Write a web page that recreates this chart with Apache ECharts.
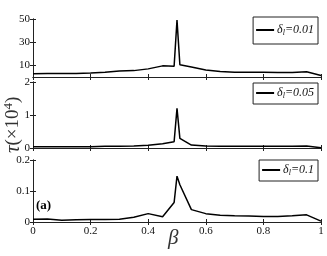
<!DOCTYPE html>
<html><head><meta charset="utf-8">
<script src="https://cdn.jsdelivr.net/npm/echarts@6/dist/echarts.min.js"></script>
<style>html,body{margin:0;padding:0;background:#fff}#c{width:327px;height:256px}</style>
</head><body><div id="c"></div>
<script>
const beta = [0,0.05,0.1,0.15,0.2,0.25,0.3,0.35,0.4,0.45,0.49,0.5,0.51,0.55,0.6,0.65,0.7,0.75,0.8,0.85,0.9,0.95,1];
const tau001 = [2.8,3.0,3.0,3.1,3.4,4.0,5.2,5.5,7.0,9.6,9.2,49,10.6,8.7,6.0,4.8,4.2,4.1,4.0,3.9,3.8,4.5,1.3];
const tau005 = [0.04,0.04,0.04,0.04,0.04,0.05,0.05,0.06,0.08,0.13,0.19,1.2,0.29,0.09,0.06,0.05,0.05,0.05,0.05,0.05,0.05,0.06,0.01];
const tau01  = [0.009,0.010,0.006,0.007,0.008,0.008,0.009,0.015,0.027,0.017,0.063,0.148,0.120,0.040,0.027,0.022,0.020,0.019,0.018,0.018,0.020,0.023,0.003];
const legendNames = ['0.01','0.05','0.1'];
const xTicks = [0,0.2,0.4,0.6,0.8,1];
const yTicks1 = [10,30,50], yTicks2 = [0,1,2], yTicks3 = [0,0.1,0.2];

const font = 'Liberation Serif';
const grids = [
  {left:33,right:6,top:19,height:58},
  {left:33,right:6,top:82,height:66},
  {left:33,right:6,top:160,height:62}
];
const ymax=[50,2,0.2], yt=[yTicks1,yTicks2,yTicks3];
const series=[tau001,tau005,tau01];
const xAxis=[], yAxis=[], ser=[], legend=[];
const axisLine={show:true,lineStyle:{color:'#222',width:1}};
for(let i=0;i<3;i++){
  xAxis.push({type:'value',gridIndex:i,min:0,max:1,position:'bottom',
    axisLine, splitLine:{show:false},
    axisTick:{show:true,inside:true,length:3,customValues:xTicks,lineStyle:{color:'#222'}},
    axisLabel:{show:i===2,customValues:xTicks,fontFamily:font,fontSize:11,color:'#111',margin:4,
      formatter:v=>String(v)}});
  xAxis.push({type:'value',gridIndex:i,min:0,max:1,position:'top',
    axisLine, splitLine:{show:false},
    axisTick:{show:true,inside:true,length:3,customValues:xTicks,lineStyle:{color:'#222'}},
    axisLabel:{show:false}});
  yAxis.push({type:'value',gridIndex:i,min:0,max:ymax[i],position:'left',
    axisLine, splitLine:{show:false},
    axisTick:{show:true,inside:true,length:3,customValues:yt[i],lineStyle:{color:'#222'}},
    axisLabel:{customValues:yt[i],fontFamily:font,fontSize:11,color:'#111',margin:3,formatter:v=>String(v)}});
  yAxis.push({type:'value',gridIndex:i,min:0,max:ymax[i],position:'right',
    axisLine, splitLine:{show:false},
    axisTick:{show:true,inside:true,length:3,customValues:yt[i],lineStyle:{color:'#222'}},
    axisLabel:{show:false}});
  ser.push({type:'line',name:'d'+i,xAxisIndex:2*i,yAxisIndex:2*i,
    data:beta.map((b,k)=>[b,series[i][k]]),showSymbol:false,symbol:'none',
    lineStyle:{color:'#000',width:1.5},itemStyle:{color:'#000'},animation:false});
}
const legPos=[{top:17,right:9,padding:[7,4,7,3]},{top:83,right:9,padding:[4,4,4,3]},{top:160,right:9,padding:[4,4,4,3]}];
for(let i=0;i<3;i++){
  legend.push(Object.assign({data:['d'+i],orient:'horizontal',
    borderColor:'#222',borderWidth:1,borderRadius:0,
    itemWidth:18,itemHeight:2,itemGap:0,icon:'rect',
    backgroundColor:'#fff',
    formatter:()=>'{a|δ}{s|l}{a|='+legendNames[i]+'}',
    textStyle:{fontFamily:font,fontStyle:'italic',fontSize:12,color:'#111',padding:[0,0,0,-2],
      rich:{a:{fontFamily:font,fontStyle:'italic',fontSize:12,color:'#111'},
            s:{fontFamily:font,fontStyle:'italic',fontSize:8,color:'#111',verticalAlign:'bottom',padding:[6,0,0,0]}}}
  },legPos[i]));
}
const chart=echarts.init(document.getElementById('c'),null,{renderer:'canvas'});
chart.setOption({
  animation:false,
  grid:grids, xAxis, yAxis, series:ser, legend,
  graphic:[
    {type:'text',left:36,top:199,style:{text:'(a)',fontFamily:font,fontWeight:'bold',fontSize:13,fill:'#000'}},
    {type:'text',left:168,top:228,style:{text:'β',fontFamily:font,fontStyle:'italic',fontSize:21,fill:'#333'}},
    {type:'text',x:2,y:153,rotation:Math.PI/2,
      style:{text:'{t|τ}{n|(×10}{p|4}{n|)}',fontFamily:font,fontSize:19,fill:'#333',
        rich:{t:{fontFamily:font,fontStyle:'italic',fontSize:21,fill:'#333'},
              n:{fontFamily:font,fontSize:19,fill:'#333'},
              p:{fontFamily:font,fontSize:13,fill:'#333',verticalAlign:'top',padding:[0,0,9,0]}}}}
  ]
});
</script></body></html>
